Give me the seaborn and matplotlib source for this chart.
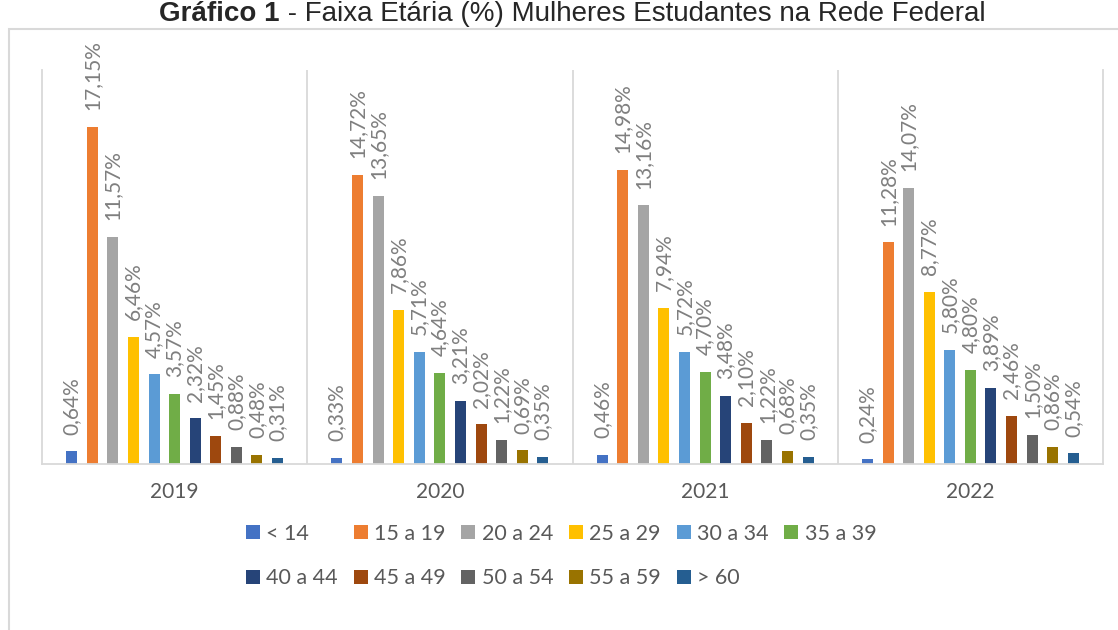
import pandas as pd
import matplotlib.pyplot as plt
import seaborn as sns
from matplotlib.patches import Rectangle

# Data
anos = ['2019', '2020', '2021', '2022']
faixas = ['< 14', '15 a 19', '20 a 24', '25 a 29', '30 a 34', '35 a 39',
          '40 a 44', '45 a 49', '50 a 54', '55 a 59', '> 60']
valores_2019 = [0.64, 17.15, 11.57, 6.46, 4.57, 3.57, 2.32, 1.45, 0.88, 0.48, 0.31]
valores_2020 = [0.33, 14.72, 13.65, 7.86, 5.71, 4.64, 3.21, 2.02, 1.22, 0.69, 0.35]
valores_2021 = [0.46, 14.98, 13.16, 7.94, 5.72, 4.70, 3.48, 2.10, 1.22, 0.68, 0.35]
valores_2022 = [0.24, 11.28, 14.07, 8.77, 5.80, 4.80, 3.89, 2.46, 1.50, 0.86, 0.54]
cores = ['#4472C4', '#ED7D31', '#A5A5A5', '#FFC000', '#5B9BD5', '#70AD47',
         '#264478', '#9E480E', '#636363', '#997300', '#255E91']

rows = []
for ano, vals in zip(anos, [valores_2019, valores_2020, valores_2021, valores_2022]):
    for faixa, v in zip(faixas, vals):
        rows.append({'Ano': ano, 'Faixa': faixa, 'Valor': v})
df = pd.DataFrame(rows)

sns.set_style('white')
plt.rcParams['font.family'] = ['Lato', 'DejaVu Sans']

fig = plt.figure(figsize=(11.18, 6.3), dpi=100)
ax = fig.add_axes([42/1118, 1 - 464/630, 1061/1118, 394/630])

sns.barplot(data=df, x='Ano', y='Valor', hue='Faixa', order=anos, hue_order=faixas,
            palette=cores, saturation=1, width=0.854, gap=0.466, ax=ax, linewidth=0)

# Value labels
for cont in ax.containers:
    labels = [f'{b.get_height():.2f}%'.replace('.', ',') for b in cont]
    ax.bar_label(cont, labels=labels, rotation=90, padding=12, fontsize=15, color='#7f7f7f')

ax.set_xlim(-0.5, 3.5)
ax.set_ylim(0, 20.05)
ax.set_yticks([])
ax.set_xlabel('')
ax.set_ylabel('')
ax.tick_params(axis='x', length=0, pad=13, labelsize=15, labelcolor='#595959')
for sp in ['left', 'right', 'bottom']:
    ax.spines[sp].set_color('#d9d9d9')
    ax.spines[sp].set_linewidth(1.3)
ax.spines['top'].set_visible(False)
for xs in [0.5, 1.5, 2.5]:
    ax.axvline(xs, color='#d9d9d9', lw=1.3, zorder=0)

# Legend (row-wise order in 6 columns)
h, l = ax.get_legend_handles_labels()
ax.get_legend().remove()
ordem = [0, 6, 1, 7, 2, 8, 3, 9, 4, 10, 5]
fig.legend([h[i] for i in ordem], [l[i] for i in ordem], ncol=6, frameon=False,
           loc='center left', bbox_to_anchor=(246/1118, 1 - 556/630),
           fontsize=15.5, labelcolor='#595959', handlelength=0.65, handleheight=0.65,
           handletextpad=0.3, columnspacing=0.72, labelspacing=1.14,
           borderpad=0, borderaxespad=0)

# Outer border
fig.add_artist(Rectangle((9/1118, -0.1), 1.2, 1 - 29/630 + 0.1, transform=fig.transFigure,
                         fill=False, ec='#d9d9d9', lw=1.5))

# Title (bold part + regular part)
ty = 1 - 1/630
t1 = fig.text(159/1118, ty, 'Gráfico 1', fontsize=20, fontweight='bold',
              family='Liberation Sans', va='top', ha='left')
bb = t1.get_window_extent(fig.canvas.get_renderer())
fig.text(bb.x1/1118, ty, ' - Faixa Etária (%) Mulheres Estudantes na Rede Federal',
         fontsize=20, family='Liberation Sans', va='top', ha='left')

plt.savefig('out.png', dpi=100)
